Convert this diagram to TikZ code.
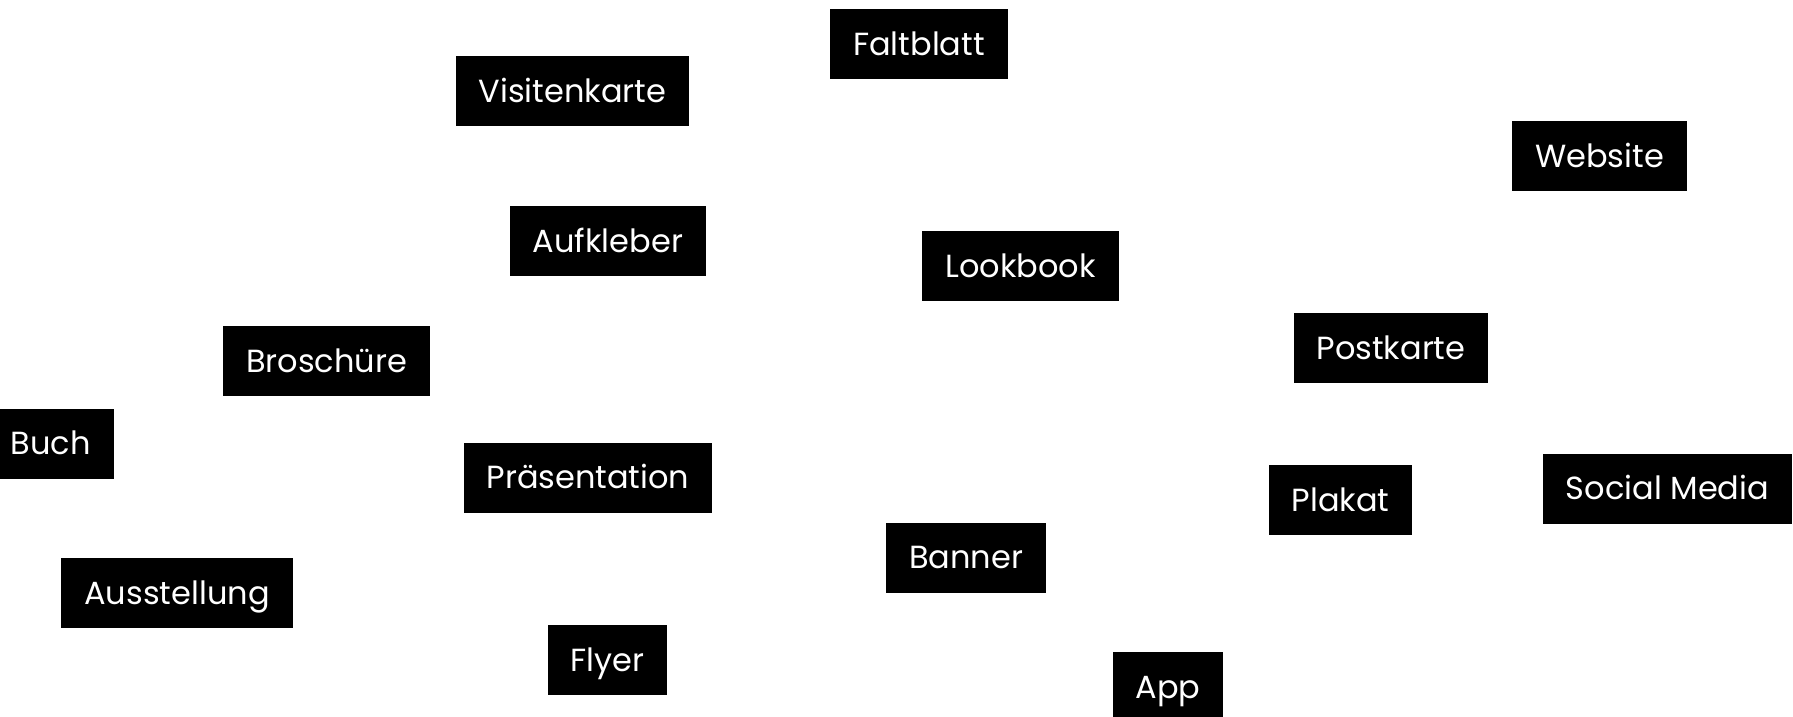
\documentclass[tikz,border=0pt]{standalone}
\usepackage{fontspec}
\setmainfont{Poppins}
\usepackage{tikz}
\tikzstyle{medium} = [rectangle, fill=black, text=white, inner xsep=11.5pt, inner ysep=0pt, minimum height=35pt, text height=11.2pt, text depth=0pt, font=\fontsize{16}{20}\selectfont]

\begin{document}
\begin{tikzpicture}[x=0.5pt, y=-0.5pt]
  \useasboundingbox (0,0) rectangle (1793,717);
  \node (faltblatt) [medium] at (919,44) {Faltblatt};
  \node (visitenkarte) [medium] at (572.5,91) {Visitenkarte};
  \node (website) [medium] at (1599.5,156) {Website};
  \node (aufkleber) [medium] at (608,241) {Aufkleber};
  \node (lookbook) [medium] at (1020.5,266) {Lookbook};
  \node (broschuere) [medium] at (326.5,361) {Broschüre};
  \node (postkarte) [medium] at (1391,348) {Postkarte};
  \node (buch) [medium] at (50.5,443.5) {Buch};
  \node (praesentation) [medium] at (588,477.5) {Präsentation};
  \node (plakat) [medium] at (1340.5,500) {Plakat};
  \node (socialmedia) [medium] at (1667.5,488.5) {Social Media};
  \node (banner) [medium] at (966,557.5) {Banner};
  \node (ausstellung) [medium] at (177,593) {Ausstellung};
  \node (flyer) [medium] at (607.5,660) {Flyer};
  \node (app) [medium] at (1168,687) {App};
\end{tikzpicture}
\end{document}
